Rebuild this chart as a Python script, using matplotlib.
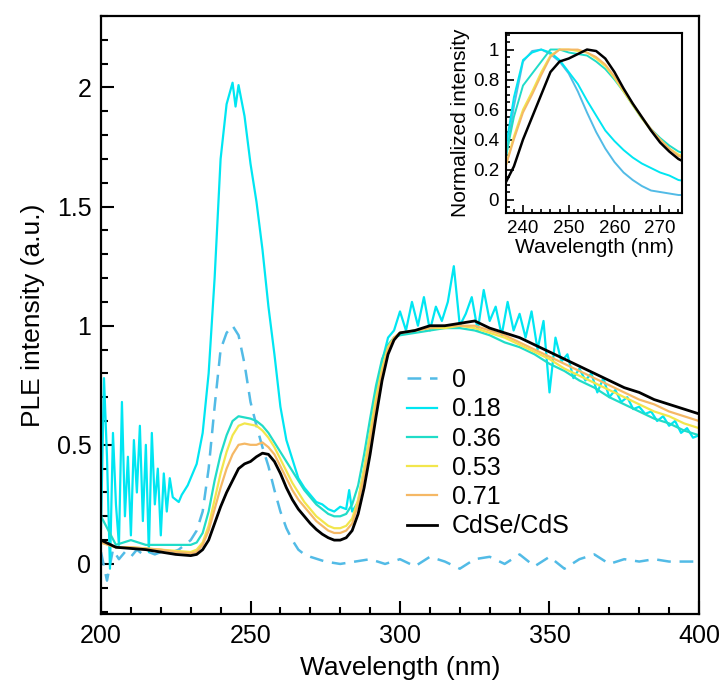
import matplotlib
matplotlib.use("Agg")
import matplotlib.pyplot as plt
from matplotlib.ticker import MultipleLocator

plt.rcParams["font.family"] = ["Liberation Sans", "DejaVu Sans"]

# ---- main panel data ----
wl_s = [200, 205, 210, 215, 220, 225, 230,
        232, 234, 236, 238, 240, 242, 244, 246, 248, 250, 252, 254, 256, 258,
        260, 262, 264, 266, 268, 270, 272, 274, 276, 278, 280, 282, 284, 286,
        288, 290, 292, 294, 296, 298, 300,
        305, 310, 315, 320, 325, 330, 335, 340, 345, 350, 355, 360, 365, 370,
        375, 380, 385, 390, 395, 400]

core_shell = [0.10, 0.07, 0.065, 0.06, 0.05, 0.04, 0.035,
              0.04, 0.06, 0.10, 0.17, 0.24, 0.30, 0.35, 0.40, 0.42, 0.43, 0.45, 0.465, 0.46, 0.43,
              0.38, 0.32, 0.27, 0.23, 0.20, 0.17, 0.145, 0.125, 0.11, 0.10, 0.10, 0.11, 0.14, 0.21,
              0.32, 0.46, 0.62, 0.77, 0.88, 0.94, 0.97,
              0.98, 1.00, 1.00, 1.01, 1.02, 0.99, 0.97, 0.95, 0.92, 0.89, 0.86, 0.83, 0.80, 0.77,
              0.74, 0.72, 0.69, 0.67, 0.65, 0.63]

x071 = [0.09, 0.07, 0.07, 0.065, 0.06, 0.05, 0.045,
        0.05, 0.08, 0.14, 0.23, 0.32, 0.40, 0.46, 0.50, 0.505, 0.50, 0.50, 0.51, 0.49, 0.46,
        0.41, 0.36, 0.31, 0.27, 0.24, 0.21, 0.18, 0.16, 0.14, 0.13, 0.13, 0.14, 0.17, 0.25,
        0.37, 0.51, 0.67, 0.80, 0.90, 0.95, 0.97,
        0.98, 0.99, 1.00, 1.00, 1.00, 0.98, 0.96, 0.93, 0.90, 0.87, 0.84, 0.81, 0.78, 0.75,
        0.72, 0.69, 0.67, 0.64, 0.62, 0.60]

x053 = [0.09, 0.07, 0.07, 0.065, 0.06, 0.055, 0.05,
        0.06, 0.09, 0.16, 0.27, 0.38, 0.47, 0.54, 0.58, 0.59, 0.585, 0.58, 0.56, 0.53, 0.49,
        0.44, 0.39, 0.34, 0.30, 0.26, 0.23, 0.20, 0.18, 0.16, 0.15, 0.15, 0.16, 0.19, 0.27,
        0.40, 0.55, 0.70, 0.82, 0.91, 0.95, 0.97,
        0.98, 0.99, 0.99, 1.00, 0.99, 0.97, 0.95, 0.92, 0.89, 0.86, 0.82, 0.79, 0.76, 0.73,
        0.70, 0.67, 0.64, 0.62, 0.59, 0.57]

x036 = [0.20, 0.08, 0.10, 0.08, 0.08, 0.08, 0.08,
        0.09, 0.13, 0.22, 0.35, 0.46, 0.54, 0.60, 0.62, 0.615, 0.61, 0.60, 0.58, 0.55, 0.51,
        0.47, 0.43, 0.39, 0.35, 0.31, 0.28, 0.25, 0.23, 0.21, 0.20, 0.20, 0.21, 0.25, 0.33,
        0.46, 0.61, 0.75, 0.86, 0.92, 0.95, 0.96,
        0.97, 0.98, 0.99, 0.99, 0.98, 0.96, 0.93, 0.91, 0.88, 0.84, 0.81, 0.77, 0.74, 0.70,
        0.67, 0.64, 0.61, 0.59, 0.56, 0.54]

wl_018 = [200, 201, 202, 203, 204, 205, 206, 207, 208, 209, 210, 211, 212, 213, 214, 215,
          216, 217, 218, 219, 220, 221, 222, 223, 224, 225, 226, 227, 228, 229, 230,
          232, 234, 236, 238, 240, 242, 244, 245, 246, 248, 250, 252, 254, 256, 258, 260,
          262, 264, 266, 268, 270, 272, 274, 276, 278, 280, 282, 283, 284, 286, 288, 290,
          292, 294, 296, 298, 300, 302, 304, 306, 308, 310, 312, 314, 316, 318, 320, 322,
          324, 326, 328, 330, 332, 334, 336, 338, 340, 342, 344, 346, 348, 350, 352, 354,
          356, 358, 360, 362, 364, 366, 368, 370, 372, 374, 376, 378, 380, 382, 384, 386,
          388, 390, 392, 394, 396, 398, 400]
x018 = [0.15, 0.78, 0.45, -0.02, 0.55, 0.25, 0.08, 0.68, 0.20, 0.45, 0.12, 0.52, 0.30, 0.58, 0.18, 0.50,
        0.05, 0.55, 0.25, 0.40, 0.12, 0.38, 0.22, 0.36, 0.28, 0.27, 0.26, 0.29, 0.31, 0.33, 0.36,
        0.42, 0.55, 0.80, 1.20, 1.70, 1.93, 2.02, 1.92, 2.01, 1.88, 1.68, 1.52, 1.32, 1.08, 0.88, 0.66,
        0.52, 0.44, 0.36, 0.32, 0.29, 0.26, 0.25, 0.23, 0.22, 0.24, 0.23, 0.31, 0.22, 0.26, 0.40, 0.55,
        0.72, 0.85, 0.95, 0.98, 1.06, 0.98, 1.10, 1.00, 1.12, 0.98, 1.08, 1.02, 1.10, 1.25, 1.00, 1.05,
        1.12, 0.98, 1.15, 1.02, 1.08, 0.96, 1.10, 0.98, 1.05, 0.95, 1.06, 0.90, 1.02, 0.72, 0.95, 0.85,
        0.88, 0.78, 0.82, 0.77, 0.80, 0.72, 0.78, 0.70, 0.73, 0.68, 0.70, 0.65, 0.66, 0.63, 0.64, 0.60,
        0.62, 0.58, 0.60, 0.55, 0.57, 0.53, 0.54]

wl_0 = [200, 202, 204, 206, 208, 210, 212, 214, 216, 218, 220, 222, 224, 226, 228, 230,
        232, 234, 236, 238, 240, 242, 244, 246, 248, 250, 252, 254, 256, 258, 260, 262,
        264, 266, 268, 270, 275, 280, 285, 290, 295, 300, 305, 310, 315, 320, 325, 330,
        335, 340, 345, 350, 355, 360, 365, 370, 375, 380, 385, 390, 395, 400]
x0 = [0.05, -0.07, 0.06, 0.02, 0.05, 0.03, 0.06, 0.04, 0.05, 0.04, 0.05, 0.06, 0.05, 0.06, 0.08, 0.10,
      0.14, 0.22, 0.40, 0.66, 0.90, 0.97, 1.00, 0.96, 0.84, 0.68, 0.58, 0.49, 0.41, 0.31, 0.22, 0.15,
      0.10, 0.06, 0.04, 0.03, 0.01, 0.00, 0.01, 0.02, 0.00, 0.02, -0.01, 0.03, 0.01, -0.02, 0.02, 0.03,
      0.00, 0.04, -0.01, 0.03, -0.02, 0.02, 0.04, 0.00, 0.02, 0.01, 0.02, 0.01, 0.01, 0.01]

# ---- inset data (normalized) ----
wl_in = [236, 238, 240, 242, 244, 246, 248, 250, 252, 254, 256, 258, 260, 262, 264, 266, 268, 270, 272, 274, 276]
n0 = [0.22, 0.62, 0.92, 0.99, 1.00, 0.97, 0.92, 0.84, 0.72, 0.58, 0.45, 0.34, 0.25, 0.18, 0.13, 0.09, 0.06, 0.05, 0.04, 0.03, 0.03]
n018 = [0.30, 0.68, 0.93, 0.98, 1.00, 0.98, 0.93, 0.85, 0.77, 0.66, 0.56, 0.46, 0.39, 0.33, 0.28, 0.24, 0.21, 0.18, 0.16, 0.13, 0.12]
n036 = [0.25, 0.55, 0.76, 0.84, 0.92, 1.00, 1.00, 0.98, 0.97, 0.96, 0.92, 0.87, 0.80, 0.72, 0.63, 0.54, 0.47, 0.41, 0.36, 0.32, 0.30]
n053 = [0.20, 0.42, 0.60, 0.72, 0.85, 0.96, 1.00, 1.00, 0.99, 0.98, 0.94, 0.89, 0.81, 0.72, 0.63, 0.54, 0.46, 0.40, 0.34, 0.30, 0.28]
n071 = [0.20, 0.40, 0.58, 0.70, 0.83, 0.95, 1.00, 1.00, 1.00, 0.98, 0.95, 0.90, 0.82, 0.73, 0.64, 0.55, 0.47, 0.40, 0.34, 0.29, 0.27]
ncs = [0.10, 0.22, 0.40, 0.55, 0.70, 0.85, 0.92, 0.94, 0.97, 1.00, 0.99, 0.94, 0.85, 0.74, 0.64, 0.55, 0.46, 0.38, 0.32, 0.27, 0.24]

c0 = "#52bbe6"
c018 = "#00e6f2"
c036 = "#20dcc8"
c053 = "#f2e64c"
c071 = "#f5b865"
ccs = "black"

fig = plt.figure(figsize=(7.23, 6.88), dpi=100)
ax = fig.add_axes([0.1397, 0.1076, 0.8271, 0.8691])

ax.plot(wl_0, x0, color=c0, lw=1.8, ls=(0, (5.5, 3.5)), label="0")
ax.plot(wl_018, x018, color=c018, lw=1.6, label="0.18")
ax.plot(wl_s, x036, color=c036, lw=1.6, label="0.36")
ax.plot(wl_s, x053, color=c053, lw=1.6, label="0.53")
ax.plot(wl_s, x071, color=c071, lw=1.6, label="0.71")
ax.plot(wl_s, core_shell, color=ccs, lw=2.0, label="CdSe/CdS")

ax.set_xlim(200, 400)
ax.set_ylim(-0.21, 2.30)
ax.xaxis.set_major_locator(MultipleLocator(50))
ax.xaxis.set_minor_locator(MultipleLocator(10))
ax.yaxis.set_minor_locator(MultipleLocator(0.1))
ax.set_yticks([0, 0.5, 1, 1.5, 2])
ax.set_yticklabels(["0", "0.5", "1", "1.5", "2"])
ax.tick_params(which="both", direction="in", width=1.5, labelsize=18)
ax.tick_params(which="major", length=9.5, pad=7)
ax.tick_params(which="minor", length=5)
for s in ax.spines.values():
    s.set_linewidth(1.6)
ax.set_xlabel("Wavelength (nm)", fontsize=19, labelpad=6)
ax.set_ylabel("PLE intensity (a.u.)", fontsize=19, labelpad=8)

ax.legend(loc="upper left", bbox_to_anchor=(0.512, 0.411), frameon=False, fontsize=18,
          handlelength=1.2, handletextpad=0.6, labelspacing=0.21, borderpad=0,
          borderaxespad=0)

# ---- inset ----
ins = fig.add_axes([0.700, 0.6904, 0.2434, 0.2616])
ins.plot(wl_in, n0, color=c0, lw=1.4)
ins.plot(wl_in, n018, color=c018, lw=1.4)
ins.plot(wl_in, n036, color=c036, lw=1.4)
ins.plot(wl_in, n053, color=c053, lw=1.4)
ins.plot(wl_in, n071, color=c071, lw=1.4)
ins.plot(wl_in, ncs, color=ccs, lw=1.8)
ins.set_xlim(236.3, 274.8)
ins.set_ylim(-0.09, 1.11)
ins.xaxis.set_major_locator(MultipleLocator(10))
ins.xaxis.set_minor_locator(MultipleLocator(2))
ins.set_yticks([0, 0.2, 0.4, 0.6, 0.8, 1])
ins.set_yticklabels(["0", "0.2", "0.4", "0.6", "0.8", "1"])
ins.yaxis.set_minor_locator(MultipleLocator(0.05))
ins.tick_params(which="both", direction="in", width=1.2, labelsize=13.5)
ins.tick_params(which="major", length=6, pad=5)
ins.tick_params(which="minor", length=3)
for s in ins.spines.values():
    s.set_linewidth(1.5)
ins.set_xlabel("Wavelength (nm)", fontsize=15, labelpad=1)
ins.set_ylabel("Normalized intensity", fontsize=15, labelpad=2)

fig.savefig("out.png", dpi=100)
